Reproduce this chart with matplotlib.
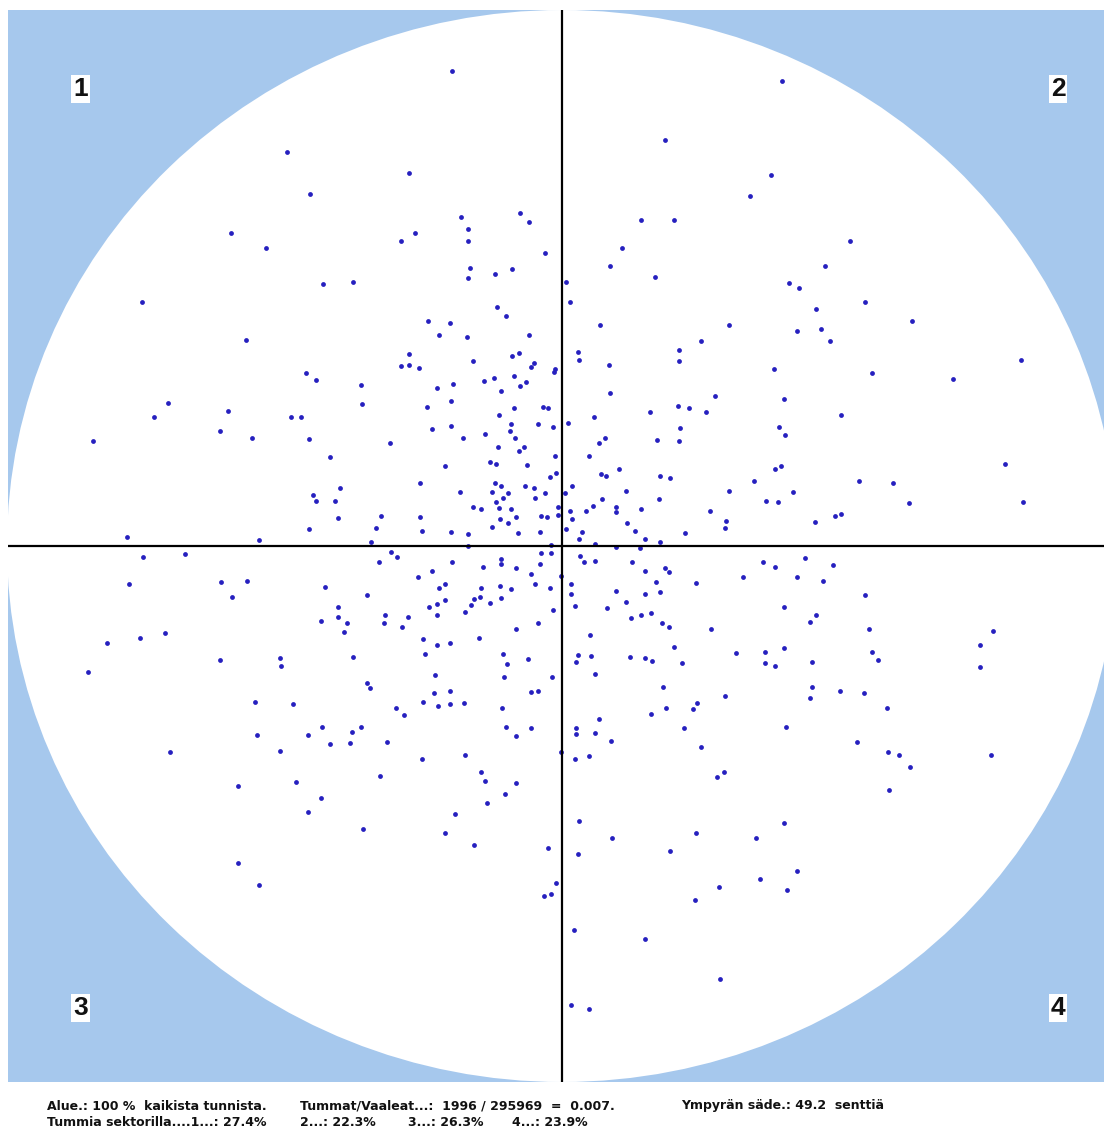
import numpy as np
import matplotlib
matplotlib.use("Agg")
import matplotlib.pyplot as plt
from matplotlib.patches import Ellipse

# Target geometry: radius in cm, scan grid units from centre to rim
RADIUS_CM = 49.2
RIM_X = 555   # grid units to the rim, horizontal
RIM_Y = 536   # grid units to the rim, vertical

# Dark hits, grid units from the centre (x right, y up)
dx = [
    -275, -331, -296, -420, -316,
    -110, -153, -252, -101, -42, -33, -94, -147, -161, -94, -17, -92, -94, -67, -50,
    -239, -209, -65, -56, -134, -112, -123, -95, -33, -153, -89, -50, -43, -161, -153,
    -143, -28, -31, -7,
    220, 103, 209, 188, 79, 112, 60, 48, 93, 4, 8, 263, 227, 237, 254, 259, 235, 268,
    38, 167, 139, 117, 117, 16, 17, 47, 212,
    288, 303, 350, 459,
    -394, -408, -469, -334, -342, -310, -435, -303, -419, -377, -433, -341, -315, -330,
    -455, -422, -397, -474, -342, -282, -281, -307,
    -256, -246, -201, -125, -109, -78, -68, -48, -36, -42, -61, -8, -200, -135, -111,
    -48, -19, -14, -271, -261, -63, -51, -24, -9, -111, -130, -77, -52, -99, -47, -253,
    -172, -64, -43, -38, -232, -7, -72, -66, -35, -117, -6, -12, -142, -222, -249, -246,
    -227, -67, -61, -37, -28, -102, -70, -54, -17, -59, -27, -66, -4, -89, -81, -63, -51,
    -224, -181, -142, -62, -46, -21, -15, -4, -54, -70, -253, -186, -140, -111, -94, -44,
    -22, -191, -94, -11,
    -171, -165, -183, -110, -61, -21, -11, -61, -79, -46, -22, -130, -1, -144, -31, -27,
    -62, -81, -51, -12, -117, -123, -237, -195, -82, -88, -72, -61, -117, -125, -133,
    -91, -224, -97, -9, -125, -177, -154, -224, -241, -215, -178, -160, -24, -46, -218,
    -83, -139, -112, -125, -137, -59, -34, -209, -55, -127, -58, -10, -195, -192, -128,
    -112, -24, -31, -269, -139, -124, -112, -98, -166, -158, -60, -240, -201, -56, -31,
    48, 153, 222, 279, 88, 116, 127, 144, 32, 6, 118, 217, 223, 43, 37, 95, 117, 27, 219,
    213, 57, 39, 44, 98, 108, 192, 10, 3, 64, 167, 231, 204, 216, 97, 40, 31, 54, 54, 8,
    24, 79, 148, 10, 65, 164, 163, 253, 273, 279, 4, 20, 73, 123, 17, 83, 98, 33, 54, 78,
    18, 22, 33, 70, 201, 213, 243, 271, 83, 103, 107, 181, 235, 261, 9, 94, 134, 54, 98,
    9, 83, 64, 13, 45, 222, 69, 79, 89, 254, 248, 100, 107, 149, 28, 112, 222, 16, 29,
    14, 68, 83, 90, 120, 174, 203, 203, 213, 250, 33, 101, 250, 278, 163, 248, 135, 131,
    104, 89, 37, 14, 122, 224,
    310, 391, 443, 297, 331, 347, 461, 303, 307, 431, 418, 310, 316, 418, 302, 325,
    295, 326, 337, 348, 429, 327,
    -305, -282, -392, -324, -324, -303,
    -254, -210, -232, -212, -175, -46, -1, -140, -97, -81, -77, -46, -266, -182, -57,
    -75, -241, -254, -107, -199, -117, -88, -14, -6, -11, -18,
    14, 33, 49, 139, 27, 13, 162, 155, 17, 50, 134, 194, 222, 16, 108, 235, 198, 157,
    225, 133, 12, 83, 158, 9, 27,
]
dy = [
    394, 313, 298, 244, 206,
    475, 373, 352, 329, 333, 324, 317, 313, 305, 305, 293, 278, 268, 272, 277,
    262, 264, 239, 230, 225, 223, 211, 209, 211, 192, 185, 190, 193, 180, 181,
    178, 183, 179, 177,
    465, 406, 371, 350, 326, 326, 298, 280, 269, 264, 244, 280, 263, 258, 237, 217, 215, 205,
    221, 221, 205, 196, 185, 194, 186, 181, 177,
    305, 244, 225, 186,
    143, 129, 105, 135, 115, 108, 9, 6, -11, -8, -38, -36, -35, -51,
    -97, -92, -87, -126, -114, -112, -120, -156,
    173, 166, 161, 158, 162, 165, 168, 170, 164, 160, 155, 174, 142, 139, 145,
    138, 139, 138, 129, 129, 131, 122, 122, 119, 120, 117, 112, 115, 108, 108, 107,
    103, 99, 95, 99, 89, 90, 84, 82, 81, 80, 73, 69, 63, 58, 51, 45,
    45, 63, 60, 60, 58, 54, 54, 53, 53, 48, 48, 44, 39, 39, 37, 38, 37,
    28, 30, 29, 27, 29, 30, 29, 31, 23, 19, 17, 18, 15, 14, 12, 13,
    14, 4, 0, 1,
    -6, -11, -16, -16, -13, -7, -7, -18, -21, -22, -18, -25, -30, -31, -28, -38,
    -40, -42, -43, -42, -38, -42, -41, -49, -51, -53, -57, -52, -54, -58, -61,
    -59, -61, -66, -64, -69, -69, -71, -71, -75, -77, -77, -81, -77, -83, -86,
    -92, -93, -97, -99, -108, -108, -113, -111, -118, -129, -131, -131, -137, -142, -147,
    -145, -145, -146, -158, -156, -160, -158, -157, -162, -169, -162, -181, -181, -181, -182,
    153, 150, 147, 131, 134, 140, 138, 134, 129, 123, 118, 119, 111, 108, 103, 106, 105, 90, 80,
    77, 77, 72, 70, 70, 68, 65, 60, 53, 55, 55, 54, 45, 44, 47, 47, 40, 39, 34, 35,
    35, 37, 35, 27, 23, 25, 18, 24, 30, 32, 17, 14, 15, 13, 7, 7, 4, 2, -1, -2,
    -10, -16, -15, -16, -16, -21, -12, -19, -25, -22, -26, -31, -31, -35, -38, -36, -37, -45, -46,
    -48, -48, -56, -60, -62, -61, -72, -69, -67, -69, -76, -77, -81, -83, -89, -101, -102, -109, -110,
    -116, -111, -112, -115, -117, -107, -106, -117, -120, -116, -128, -141, -141, -145, -150, -152, -157, -163,
    -162, -168, -173, -182, -182, -181,
    173, 167, 82, 65, 63, 43, 44, -49, -83, -85, -99, -106, -114, -121, -147, -162,
    -196, -206, -209, -221, -209, -244,
    -189, -205, -206, -240, -317, -339,
    -189, -186, -198, -197, -196, -190, -206, -213, -209, -226, -235, -237, -236, -230, -248,
    -257, -252, -266, -268, -283, -287, -299, -302, -337, -348, -350,
    -188, -187, -195, -201, -210, -213, -226, -231, -275, -292, -287, -292, -277, -308, -305, -325, -333, -341,
    -344, -354, -384, -393, -433, -459, -463,
]

# Summary lines printed under the target
summary_top = ["Alue.: 100 %  kaikista tunnista.",
               "Tummat/Vaaleat...:  1996 / 295969  =  0.007.",
               "Ympyrän säde.: 49.2  senttiä"]
sector_share = [27.4, 22.3, 26.3, 23.9]
sector_names = ["1", "2", "3", "4"]

x_cm = np.array(dx) * RADIUS_CM / RIM_X
y_cm = np.array(dy) * RADIUS_CM / RIM_Y

W, H = 1104, 1133
fig = plt.figure(figsize=(W / 100, H / 100), dpi=100)
fig.patch.set_facecolor("white")

# panel box in pixels: left 8, top 10, right 1104, bottom 1082
ax = fig.add_axes([8 / W, (H - 1082) / H, 1096 / W, 1072 / H])
ax.set_facecolor("#a6c8ed")
ax.set_xlim(-554 * RADIUS_CM / RIM_X, 542 * RADIUS_CM / RIM_X)
ax.set_ylim(-RADIUS_CM, RADIUS_CM)
ax.set_aspect("auto")
for s in ax.spines.values():
    s.set_visible(False)
ax.set_xticks([])
ax.set_yticks([])

ax.add_patch(Ellipse((0, 0), 2 * RADIUS_CM, 2 * RADIUS_CM,
                     facecolor="white", edgecolor="none", zorder=1))

ax.scatter(x_cm, y_cm, s=12, c="#2620bf", marker="o", linewidths=0, zorder=2)

ax.axvline(0, color="black", lw=1.6, zorder=3)
ax.axhline(0, color="black", lw=1.6, zorder=3)

# sector numbers in the corners
corner_pos = [(0.066, 0.926), (0.958, 0.926), (0.066, 0.069), (0.958, 0.069)]
for name, (cx, cy) in zip(sector_names, corner_pos):
    ax.text(cx, cy, name, transform=ax.transAxes, ha="center", va="center",
            fontsize=19, fontweight="bold", family="Liberation Sans", color="#111111",
            bbox=dict(boxstyle="square,pad=0.08", facecolor="white", edgecolor="none"),
            zorder=4)

font = dict(fontsize=9, fontweight="bold", family=["Liberation Sans Narrow", "DejaVu Sans"],
            color="#111111", va="center")
fig.text(47 / W, 1 - 1106 / H, summary_top[0], ha="left", **font)
fig.text(300 / W, 1 - 1106 / H, summary_top[1], ha="left", **font)
fig.text(884 / W, 1 - 1106 / H, summary_top[2], ha="right", **font)

sector_txt = ["Tummia sektorilla....1...: %.1f%%" % sector_share[0]] + \
    ["%s...: %.1f%%" % (n, v) for n, v in zip(sector_names[1:], sector_share[1:])]
for txt, xp in zip(sector_txt, [47, 300, 408, 512]):
    fig.text(xp / W, 1 - 1123 / H, txt, ha="left", **font)

fig.savefig("out.png", dpi=100)
